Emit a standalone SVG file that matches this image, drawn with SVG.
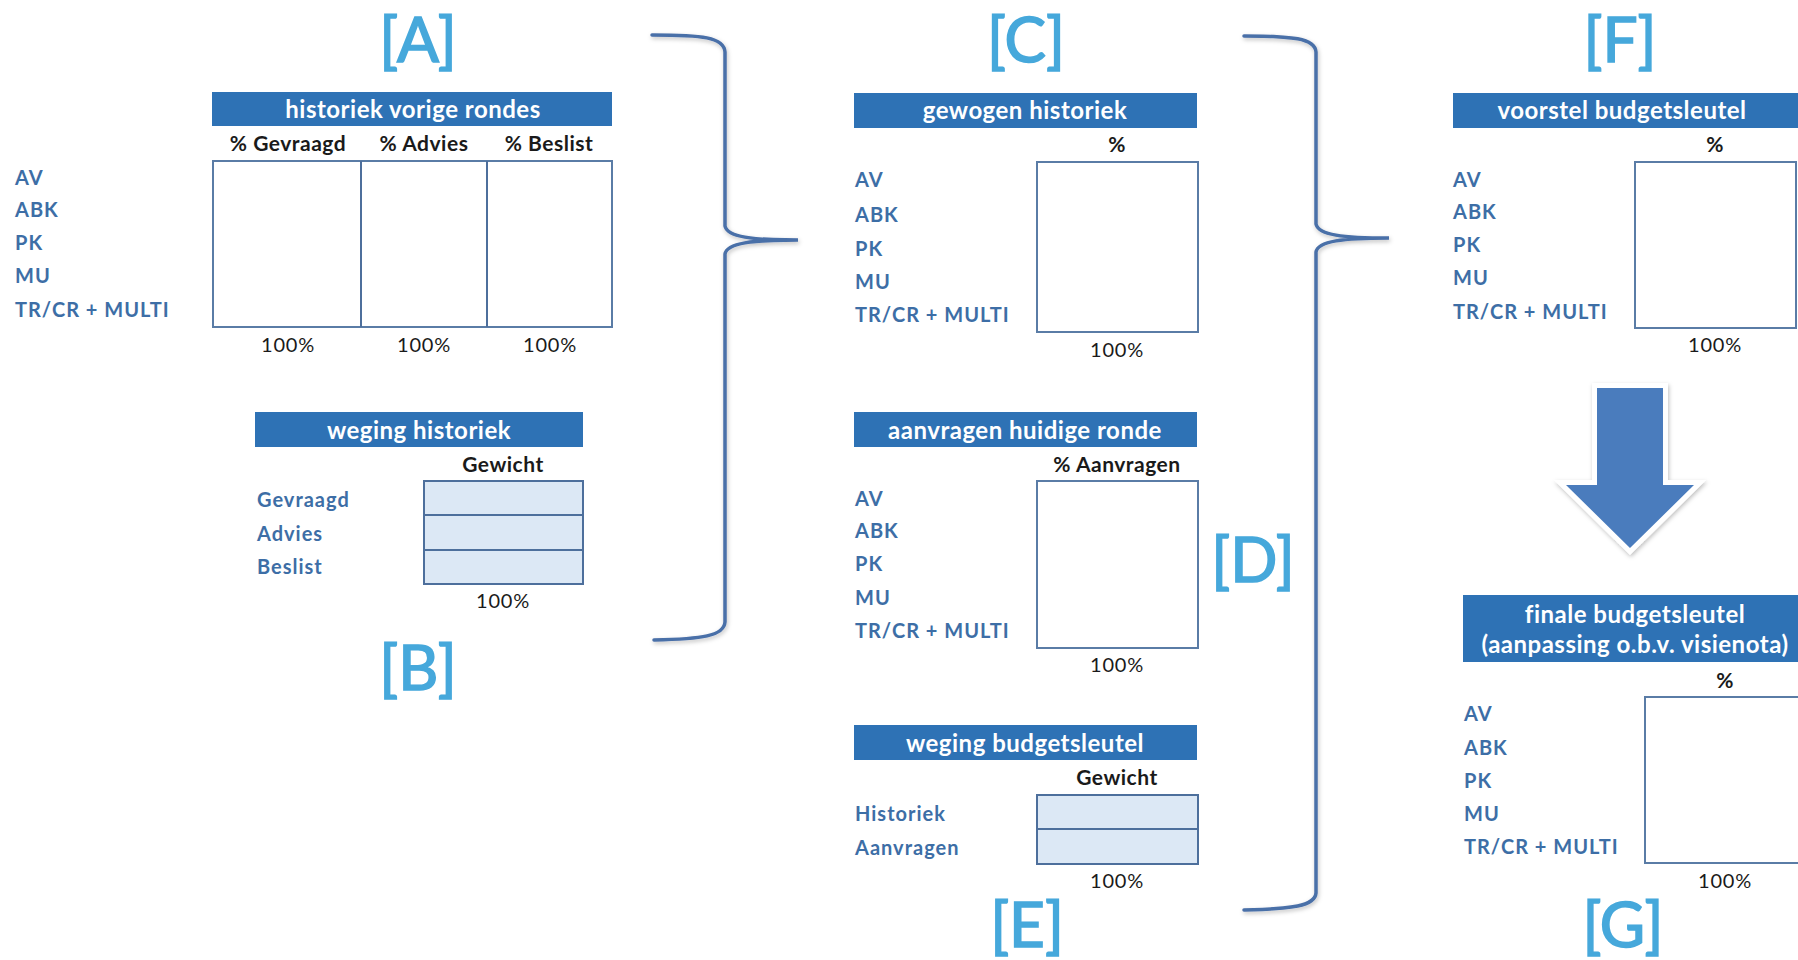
<svg xmlns="http://www.w3.org/2000/svg" width="1798" height="960" viewBox="0 0 1798 960">
<defs>
<style>
.bg{fill:#ffffff}
.hdr{fill:#2e72b5}
.ht{font-family:Lato,"Open Sans",sans-serif;font-weight:bold;font-size:24px;letter-spacing:0.5px;fill:#ffffff;text-anchor:middle}
.lbl{font-family:Lato,"Open Sans",sans-serif;font-weight:bold;font-size:20px;letter-spacing:1px;fill:#3d6ea6}
.col{font-family:Lato,"Open Sans",sans-serif;font-weight:bold;font-size:21px;letter-spacing:0.5px;fill:#1a1a1a;text-anchor:middle}
.pct{font-family:Lato,"Open Sans",sans-serif;font-size:20px;letter-spacing:0.8px;fill:#1a1a1a;text-anchor:middle}
.big{font-family:Lato,"Open Sans",sans-serif;font-size:62px;fill:#46a8db;stroke:#46a8db;stroke-width:1.6px;text-anchor:middle}
.box{fill:#ffffff;stroke:#5a7ca6;stroke-width:2}
.wbox{fill:#dce8f5;stroke:#4d6f9c;stroke-width:2}
.brace{fill:none;stroke:#4a6fa8;stroke-width:3.5;stroke-linecap:round}
</style>
<filter id="shadow" x="-20%" y="-20%" width="140%" height="140%">
<feDropShadow dx="1" dy="2" stdDeviation="2" flood-color="#000000" flood-opacity="0.25"/>
</filter>
</defs>
<rect class="bg" x="0" y="0" width="1798" height="960"/>

<g id="connectors">
<path class="brace" filter="url(#shadow)" d="M 652 35 C 702 35 724 37 725 52 L 725 226 C 727 237 752 240 798 240 C 752 240 727 243 725 254 L 725 622 C 724 636 702 639 654 640"/>
<path class="brace" filter="url(#shadow)" d="M 1244 36 C 1292 36 1315 38 1316 52 L 1316 224 C 1318 235 1343 238 1389 238 C 1343 238 1318 241 1316 252 L 1316 893 C 1315 906 1292 909 1244 910"/>
<polygon filter="url(#shadow)" points="1597,388 1663,388 1663,485 1694,485 1630,548 1566,485 1597,485" fill="#ffffff" stroke="#ffffff" stroke-width="10" stroke-linejoin="miter"/>
<polygon points="1597,388 1663,388 1663,485 1694,485 1630,548 1566,485 1597,485" fill="#4a7cbd"/>
</g>

<g id="node-A">
<text class="big" x="418" y="62">[A]</text>
<rect class="hdr" x="212" y="92" width="400" height="34"/>
<text class="ht" x="413" y="118">historiek vorige rondes</text>
<text class="col" x="288" y="151">% Gevraagd</text>
<text class="col" x="424" y="151">% Advies</text>
<text class="col" x="549" y="151">% Beslist</text>
<rect class="box" x="213" y="161" width="399" height="166"/>
<line x1="361" y1="161" x2="361" y2="327" stroke="#4d6f9c" stroke-width="2"/>
<line x1="487" y1="161" x2="487" y2="327" stroke="#4d6f9c" stroke-width="2"/>
<text class="lbl" x="15" y="185">AV</text>
<text class="lbl" x="15" y="217">ABK</text>
<text class="lbl" x="15" y="250">PK</text>
<text class="lbl" x="15" y="283">MU</text>
<text class="lbl" x="15" y="317">TR/CR + MULTI</text>
<text class="pct" x="288" y="352">100%</text>
<text class="pct" x="424" y="352">100%</text>
<text class="pct" x="550" y="352">100%</text>
</g>

<g id="node-B">
<rect class="hdr" x="255" y="412" width="328" height="35"/>
<text class="ht" x="419" y="439">weging historiek</text>
<text class="col" x="503" y="472">Gewicht</text>
<rect class="wbox" x="424" y="481" width="159" height="34"/>
<rect class="wbox" x="424" y="515" width="159" height="35"/>
<rect class="wbox" x="424" y="550" width="159" height="34"/>
<text class="lbl" x="257" y="507">Gevraagd</text>
<text class="lbl" x="257" y="541">Advies</text>
<text class="lbl" x="257" y="574">Beslist</text>
<text class="pct" x="503" y="608">100%</text>
<text class="big" x="418" y="690">[B]</text>
</g>

<g id="node-C">
<text class="big" x="1026" y="62">[C]</text>
<rect class="hdr" x="854" y="93" width="343" height="35"/>
<text class="ht" x="1025" y="119">gewogen historiek</text>
<text class="col" x="1117" y="152">%</text>
<rect class="box" x="1037" y="162" width="161" height="170"/>
<text class="lbl" x="855" y="187">AV</text>
<text class="lbl" x="855" y="222">ABK</text>
<text class="lbl" x="855" y="256">PK</text>
<text class="lbl" x="855" y="289">MU</text>
<text class="lbl" x="855" y="322">TR/CR + MULTI</text>
<text class="pct" x="1117" y="357">100%</text>
</g>

<g id="node-D">
<rect class="hdr" x="854" y="412" width="343" height="35"/>
<text class="ht" x="1025" y="439">aanvragen huidige ronde</text>
<text class="col" x="1117" y="472">% Aanvragen</text>
<rect class="box" x="1037" y="481" width="161" height="167"/>
<text class="lbl" x="855" y="506">AV</text>
<text class="lbl" x="855" y="538">ABK</text>
<text class="lbl" x="855" y="571">PK</text>
<text class="lbl" x="855" y="605">MU</text>
<text class="lbl" x="855" y="638">TR/CR + MULTI</text>
<text class="pct" x="1117" y="672">100%</text>
<text class="big" x="1253" y="582">[D]</text>
</g>

<g id="node-E">
<rect class="hdr" x="854" y="725" width="343" height="35"/>
<text class="ht" x="1025" y="752">weging budgetsleutel</text>
<text class="col" x="1117" y="785">Gewicht</text>
<rect class="wbox" x="1037" y="795" width="161" height="34"/>
<rect class="wbox" x="1037" y="829" width="161" height="35"/>
<text class="lbl" x="855" y="821">Historiek</text>
<text class="lbl" x="855" y="855">Aanvragen</text>
<text class="pct" x="1117" y="888">100%</text>
<text class="big" x="1027" y="947">[E]</text>
</g>

<g id="node-F">
<text class="big" x="1620" y="62">[F]</text>
<rect class="hdr" x="1453" y="93" width="345" height="35"/>
<text class="ht" x="1622" y="119">voorstel budgetsleutel</text>
<text class="col" x="1715" y="152">%</text>
<rect class="box" x="1635" y="162" width="161" height="166"/>
<text class="lbl" x="1453" y="187">AV</text>
<text class="lbl" x="1453" y="219">ABK</text>
<text class="lbl" x="1453" y="252">PK</text>
<text class="lbl" x="1453" y="285">MU</text>
<text class="lbl" x="1453" y="319">TR/CR + MULTI</text>
<text class="pct" x="1715" y="352">100%</text>
</g>

<g id="node-G">
<rect class="hdr" x="1463" y="595" width="335" height="67"/>
<text class="ht" x="1635" y="623">finale budgetsleutel</text>
<text class="ht" x="1635" y="653">(aanpassing o.b.v. visienota)</text>
<text class="col" x="1725" y="688">%</text>
<path d="M 1798 697 L 1645 697 L 1645 863 L 1798 863" fill="#ffffff" stroke="#5a7ca6" stroke-width="2"/>
<text class="lbl" x="1464" y="721">AV</text>
<text class="lbl" x="1464" y="755">ABK</text>
<text class="lbl" x="1464" y="788">PK</text>
<text class="lbl" x="1464" y="821">MU</text>
<text class="lbl" x="1464" y="854">TR/CR + MULTI</text>
<text class="pct" x="1725" y="888">100%</text>
<text class="big" x="1623" y="947">[G]</text>
</g>
</svg>
